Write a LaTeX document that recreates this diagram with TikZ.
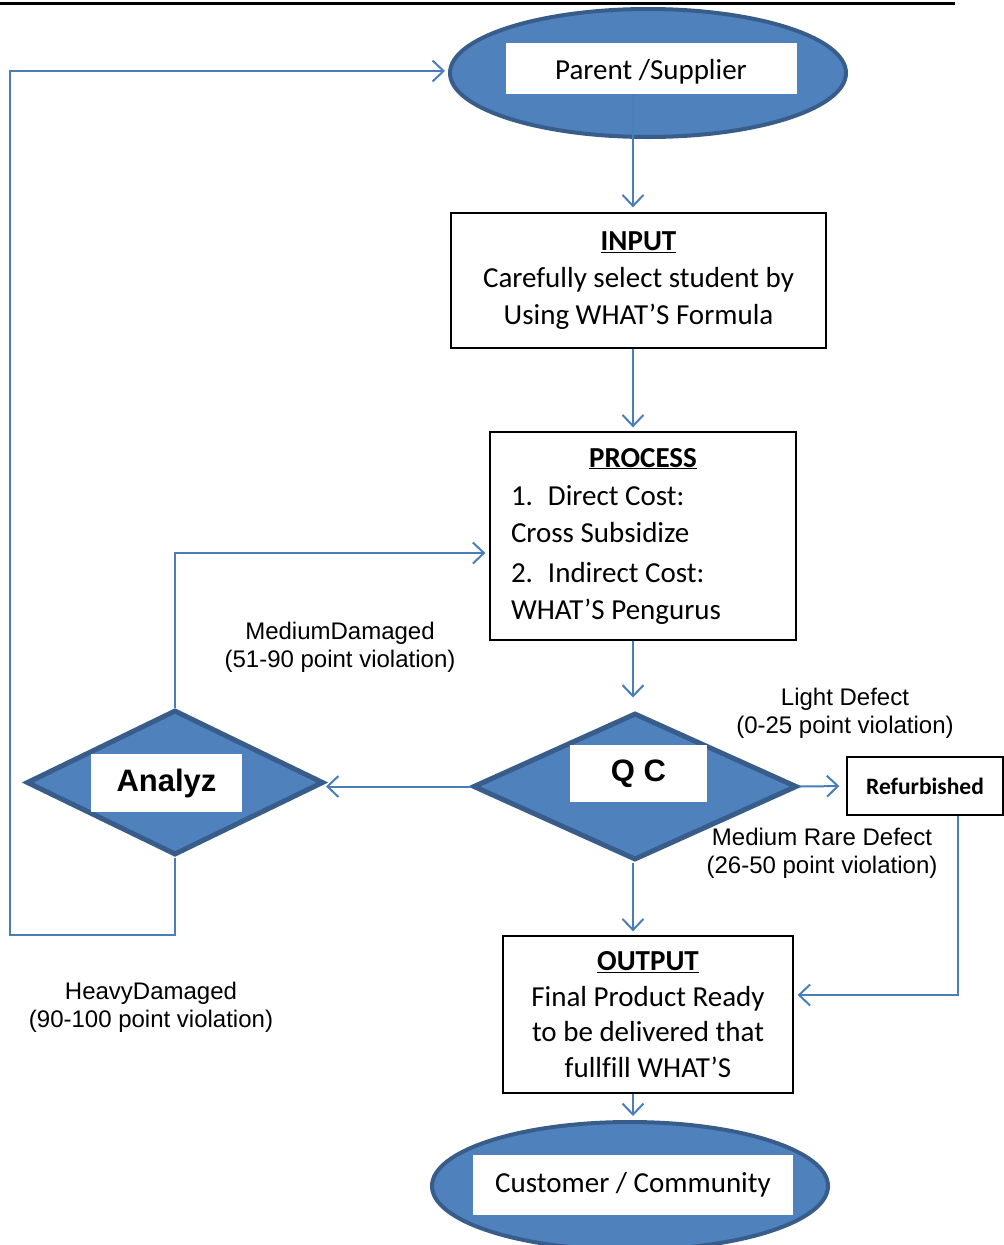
\documentclass[tikz,border=0pt]{standalone}
\usepackage{fontspec}
\setmainfont[Ligatures={TeX,NoCommon}]{Carlito}
\newfontfamily\arial{Liberation Sans}
\usetikzlibrary{shapes.geometric,arrows.meta}
\definecolor{shapefill}{HTML}{4F81BD}
\definecolor{shapeline}{HTML}{385D8A}
\definecolor{flowline}{HTML}{4A7EBB}

\tikzset{
  terminal/.style={ellipse, draw=shapeline, fill=shapefill, line width=4pt,
    minimum width=396pt, minimum height=128pt},
  decision/.style={diamond, draw=shapeline, fill=shapefill, line width=5pt},
  whitebox/.style={fill=white, inner sep=0pt},
  stagebox/.style={draw=black, line width=1.3pt, fill=white, align=center,
    font=\fontsize{29}{37}\selectfont},
  note/.style={align=center, font=\arial\fontsize{24}{28}\selectfont},
  flow/.style={draw=flowline, line width=2pt,
    -{Straight Barb[length=11pt,width=21pt]}}
}

\begin{document}
\begin{tikzpicture}[x=1pt,y=-1pt]
  \useasboundingbox (0,0) rectangle (1004,1245);
  \draw[line width=3pt] (0,3) -- (955,3);

  % terminals
  \node[terminal](parent) at (648,73) {};
  \node[whitebox, minimum width=291pt, minimum height=51pt, text height=28pt, text depth=6pt,
        font=\fontsize{29}{29}\selectfont](parentbox) at (651,68.5) {Parent /Supplier};
  \node[terminal](customer) at (630,1186) {};
  \node[whitebox, minimum width=320pt, minimum height=60pt,
        font=\fontsize{29}{29}\selectfont](customerbox) at (633,1185) {Customer / Community};

  % stages
  \node[stagebox, minimum width=375pt, minimum height=135pt](input) at (638.5,280.5)
    {\underline{\textbf{INPUT}}\\Carefully select student by\\Using WHAT’S Formula};
  \node[stagebox, align=flush left, text width=264pt, inner xsep=21pt,
        minimum height=208pt](process) at (643,536)
    {\makebox[264pt]{\underline{\textbf{PROCESS}}}\\[1pt]
     \makebox[37pt][l]{1.}Direct Cost:\\
     Cross Subsidize\\[3pt]
     \makebox[37pt][l]{2.}Indirect Cost:\\
     WHAT’S Pengurus};
  \node[stagebox, minimum width=290pt, minimum height=157pt,
        font=\fontsize{29}{35.5}\selectfont](output) at (648,1014.5)
    {\underline{\textbf{OUTPUT}}\\Final Product Ready\\to be delivered that\\fullfill WHAT’S};
  \node[stagebox, minimum width=156pt, minimum height=58pt,
        font=\fontsize{23.5}{23.5}\selectfont\bfseries](refurb) at (925,786) {Refurbished};

  % decisions
  \node[decision, minimum width=324pt, minimum height=147pt](qc) at (635,786.5) {};
  \node[whitebox, minimum width=137pt, minimum height=57pt,
        font=\arial\bfseries\fontsize{31}{31}\selectfont](qcbox) at (638.5,773.5) {Q C};
  \node[decision, minimum width=297pt, minimum height=145pt](analyz) at (175,782.5) {};
  \node[whitebox, minimum width=151pt, minimum height=58pt,
        font=\arial\bfseries\fontsize{31}{31}\selectfont](analyzbox) at (166.5,783) {Analyz};

  % labels
  \node[note](lightlbl)  at (845,713)    {Light Defect\\(0-25 point violation)};
  \node[note](rarelbl)   at (822,853)    {Medium Rare Defect\\(26-50 point violation)};
  \node[note](mediumlbl) at (340,647)    {MediumDamaged\\(51-90 point violation)};
  \node[note](heavylbl)  at (151,1007)   {HeavyDamaged\\(90-100 point violation)};

  % connectors
  \coordinate (spine) at (633,0);
  \draw[flow, shorten >=5pt]  (spine |- parentbox.south) -- (spine |- input.north);
  \draw[flow, shorten >=4pt]  (spine |- input.south) -- (spine |- process.north);
  \draw[flow, shorten >=13pt] (spine |- process.south) -- (spine |- qc.north);
  \draw[flow, shorten >=4pt]  (spine |- qc.south) -- (spine |- output.north);
  \draw[flow, shorten >=4pt]  (spine |- output.south) -- (spine |- customer.north);
  \draw[flow, shorten >=7pt]  (qc.east) -- (refurb.west);

  \coordinate (refdrop) at (958,995);
  \draw[flow, shorten >=4pt] (refurb.south -| refdrop) -- (refdrop) -- (output.east |- refdrop);

  \draw[flow] (qc.west) -- (qc.west -| analyz.east);

  \coordinate (medturn) at (175,553);
  \draw[flow, shorten >=4pt] (analyz.north) -- (medturn) -- (process.west |- medturn);

  \coordinate (loopbottom) at (10,935);
  \coordinate (looptop) at (10,71);
  \draw[flow, shorten >=3pt] (analyz.south) -- (analyz.south |- loopbottom) -- (loopbottom)
    -- (looptop) -- (parent.west |- looptop);
\end{tikzpicture}
\end{document}
